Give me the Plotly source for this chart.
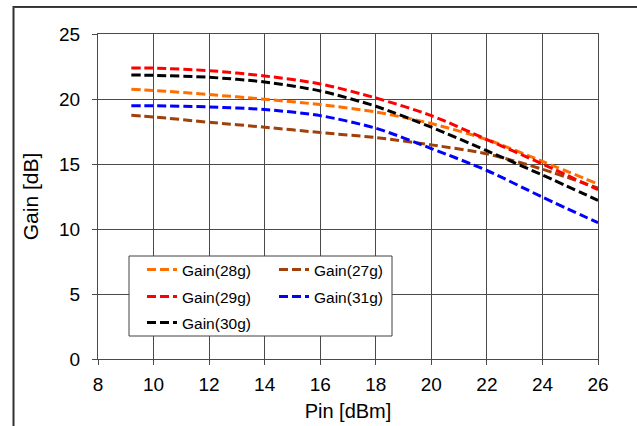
import plotly.graph_objects as go

pin = [9.2, 10, 12, 14, 16, 18, 20, 22, 24, 26]
gain_28g = [20.75, 20.66, 20.34, 19.98, 19.57, 19.00, 18.11, 16.88, 15.20, 13.46]
gain_27g = [18.75, 18.62, 18.21, 17.83, 17.42, 17.03, 16.47, 15.78, 14.60, 13.15]
gain_29g = [22.39, 22.38, 22.18, 21.77, 21.16, 20.08, 18.72, 16.88, 15.00, 13.02]
gain_31g = [19.49, 19.48, 19.39, 19.19, 18.72, 17.75, 16.19, 14.50, 12.45, 10.48]
gain_30g = [21.85, 21.82, 21.67, 21.31, 20.62, 19.44, 17.83, 16.02, 14.15, 12.20]

series = [
    ("Gain(28g)", gain_28g, "#FF6F00", "legend"),
    ("Gain(27g)", gain_27g, "#A0400A", "legend2"),
    ("Gain(29g)", gain_29g, "#FF0000", "legend3"),
    ("Gain(31g)", gain_31g, "#0000FF", "legend4"),
    ("Gain(30g)", gain_30g, "#000000", "legend5"),
]

FONT = "Liberation Sans, Arial, sans-serif"
fig = go.Figure()
for name, ys, color, lg in series:
    fig.add_trace(go.Scatter(
        x=pin, y=ys, name=name, mode="lines", legend=lg,
        line=dict(color=color, width=3, dash="9px,4px", shape="spline", smoothing=0.8),
    ))

L, R, T, B = 98, 39, 34, 67
W, H = 637, 426
pw, ph = W - L - R, H - T - B

def px(xp):
    return (xp - L) / pw

def py(yp):
    return (H - B - yp) / ph

leg_font = dict(family=FONT, size=15.5, color="#000000")
col_x = [px(142), px(274)]
row_y = [py(270), py(297), py(323)]
pos = {"legend": (0, 0), "legend2": (1, 0), "legend3": (0, 1), "legend4": (1, 1), "legend5": (0, 2)}
legends = {}
for lg, (c, r) in pos.items():
    legends[lg] = dict(x=col_x[c], y=row_y[r], xanchor="left", yanchor="middle",
                       bgcolor="rgba(0,0,0,0)", borderwidth=0, font=leg_font)

grid = "#4a4a4a"
fig.update_layout(
    width=W, height=H,
    margin=dict(l=L, r=R, t=T, b=B, autoexpand=False),
    paper_bgcolor="white", plot_bgcolor="white",
    showlegend=True,
    font=dict(family=FONT, size=19, color="#000000"),
    xaxis=dict(range=[8, 26], dtick=2, tick0=8, showgrid=True, gridcolor=grid, gridwidth=1,
               showline=True, linecolor=grid, linewidth=1, mirror=True, zeroline=False,
               ticks="outside", ticklen=5, tickcolor=grid, ticklabelstandoff=3, automargin=False,
               title=dict(text="Pin [dBm]", font=dict(size=20), standoff=10)),
    yaxis=dict(range=[0, 25], dtick=5, tick0=0, showgrid=True, gridcolor=grid, gridwidth=1,
               showline=True, linecolor=grid, linewidth=1, mirror=True, zeroline=False,
               ticks="outside", ticklen=5, tickcolor=grid, ticklabelstandoff=8, automargin=False,
               title=dict(text="Gain [dB]", font=dict(size=21), standoff=14)),
    shapes=[
        dict(type="rect", xref="paper", yref="paper", x0=px(129), x1=px(392), y0=py(256), y1=py(336),
             line=dict(color="#404040", width=1), fillcolor="white", layer="above"),
        dict(type="path", xref="paper", yref="paper",
             path=f"M {px(13.5)},{py(440)} L {px(13.5)},{py(7)} L {px(650)},{py(7)}",
             line=dict(color="#303030", width=2), layer="above"),
    ],
    annotations=[
        dict(xref="paper", yref="paper", x=px(13), y=py(7), xanchor="left", yanchor="middle",
             text=" ", showarrow=False, bgcolor="#404040", borderwidth=0, borderpad=0,
             width=624, height=1, font=dict(size=1)),
    ],
    **legends,
)

fig.write_html("out.html", config={"displayModeBar": False},
               post_script="document.body.style.margin='0';document.body.style.overflow='hidden';")
